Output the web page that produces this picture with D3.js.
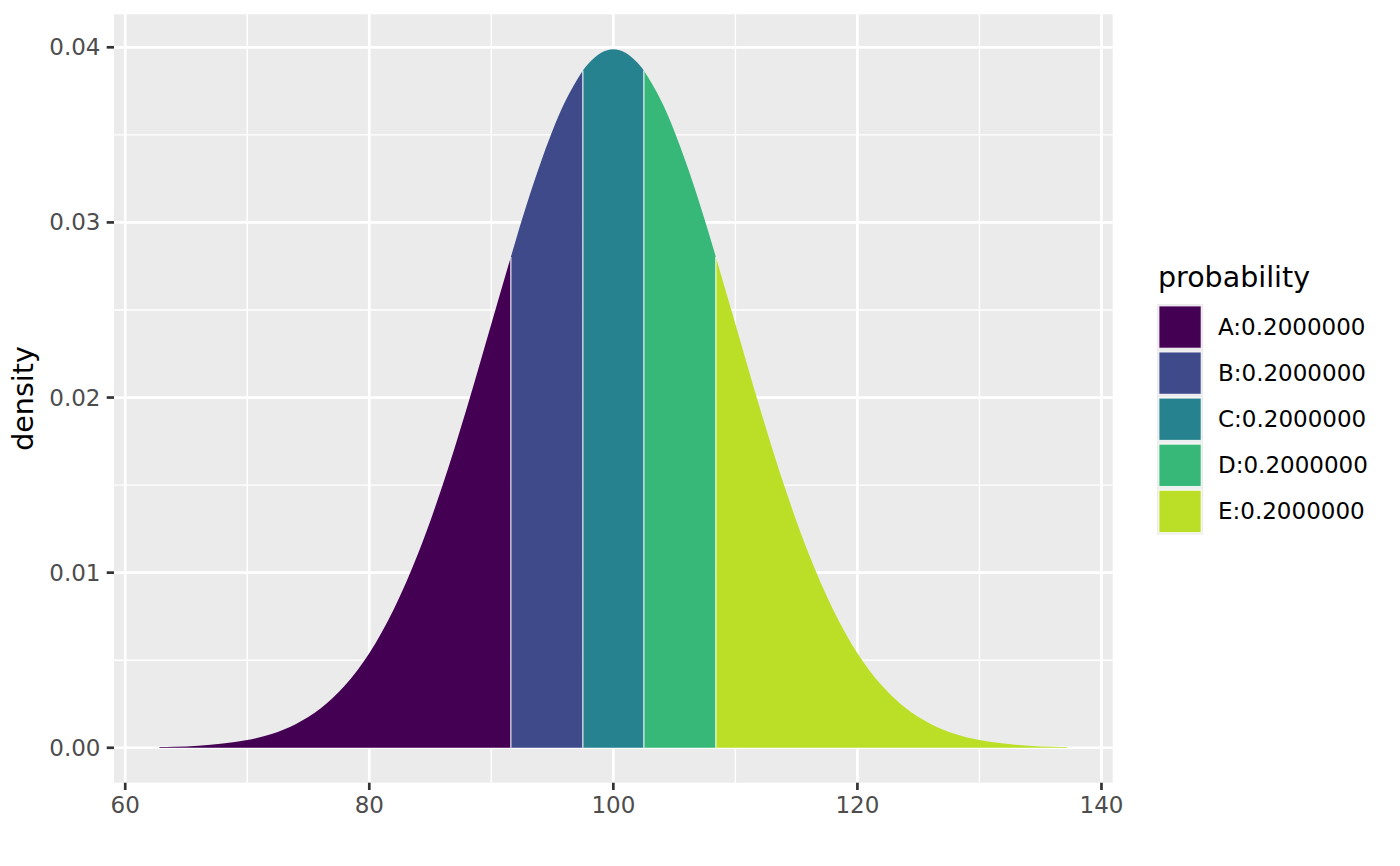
<!DOCTYPE html>
<html>
<head>
<meta charset="utf-8">
<script src="https://cdn.jsdelivr.net/npm/d3@7"></script>
<style>
    body { margin: 0; background: #ffffff; }
    svg { display: block; font-family: "DejaVu Sans", sans-serif; }
</style>
</head>
<body>
<svg id="chart" width="1400" height="866"></svg>
<script>
// density curve
var densityX = [62.8, 64, 66, 68, 70, 72, 74, 76, 78, 80, 82, 84, 86, 88, 90, 91.6, 92, 94, 96, 97.5, 98, 100,
    102, 102.5, 104, 106, 108, 108.4, 110, 112, 114, 116, 118, 120, 122, 124, 126, 128, 130, 132, 134, 136, 137.2];
var densityY = [0.00004, 0.00006, 0.00012, 0.00024, 0.00044, 0.00079, 0.00136, 0.00224, 0.00355, 0.00540, 0.00790,
    0.01109, 0.01497, 0.01942, 0.02420, 0.02803, 0.02897, 0.03332, 0.03683, 0.03867, 0.03910, 0.03989,
    0.03910, 0.03867, 0.03683, 0.03332, 0.02897, 0.02803, 0.02420, 0.01942, 0.01497, 0.01109, 0.00790,
    0.00540, 0.00355, 0.00224, 0.00136, 0.00079, 0.00044, 0.00024, 0.00012, 0.00006, 0.00004];

// the five shaded regions
var groups = ["A", "B", "C", "D", "E"];
var probability = [0.2, 0.2, 0.2, 0.2, 0.2];
var breaks = [62.8, 91.6, 97.5, 102.5, 108.4, 137.2];

var xTicks = [60, 80, 100, 120, 140];
var xMinor = [70, 90, 110, 130];
var yTicks = [0, 0.01, 0.02, 0.03, 0.04];
var yMinor = [0.005, 0.015, 0.025, 0.035];

var palette = ["#440154", "#3E4A89", "#26828E", "#38B878", "#BBDF27"];

var panel = {left: 114, right: 1112.7, top: 14.3, bottom: 782.7};

var svg = d3.select("#chart");

var points = densityX.map(function (x, i) {
    return {x: x, y: densityY[i]};
});

var xExt = d3.extent(densityX);
var xPad = (xExt[1] - xExt[0]) * 0.05;
var x = d3.scaleLinear()
    .domain([xExt[0] - xPad, xExt[1] + xPad])
    .range([panel.left, panel.right]);

var yMax = d3.max(densityY);
var y = d3.scaleLinear()
    .domain([-yMax * 0.05, yMax * 1.05])
    .range([panel.bottom, panel.top]);

// panel background and grid
svg.append("rect")
    .attr("x", panel.left).attr("y", panel.top)
    .attr("width", panel.right - panel.left)
    .attr("height", panel.bottom - panel.top)
    .attr("fill", "#EBEBEB");

var grid = svg.append("g").attr("stroke", "#ffffff");

grid.selectAll(".xminor").data(xMinor).enter().append("line")
    .attr("x1", function (d) { return x(d); }).attr("x2", function (d) { return x(d); })
    .attr("y1", panel.top).attr("y2", panel.bottom)
    .attr("stroke-width", 1.4);
grid.selectAll(".yminor").data(yMinor).enter().append("line")
    .attr("y1", function (d) { return y(d); }).attr("y2", function (d) { return y(d); })
    .attr("x1", panel.left).attr("x2", panel.right)
    .attr("stroke-width", 1.4);
grid.selectAll(".xmajor").data(xTicks).enter().append("line")
    .attr("x1", function (d) { return x(d); }).attr("x2", function (d) { return x(d); })
    .attr("y1", panel.top).attr("y2", panel.bottom)
    .attr("stroke-width", 2.7);
grid.selectAll(".ymajor").data(yTicks).enter().append("line")
    .attr("y1", function (d) { return y(d); }).attr("y2", function (d) { return y(d); })
    .attr("x1", panel.left).attr("x2", panel.right)
    .attr("stroke-width", 2.7);

// shaded regions under the curve
var area = d3.area()
    .x(function (d) { return x(d.x); })
    .y0(y(0))
    .y1(function (d) { return y(d.y); })
    .curve(d3.curveMonotoneX);

var regions = groups.map(function (g, i) {
    return points.filter(function (p) {
        return p.x >= breaks[i] && p.x <= breaks[i + 1];
    });
});

svg.append("g").selectAll("path").data(regions).enter().append("path")
    .attr("d", area)
    .attr("fill", function (d, i) { return palette[i]; });

// light separators between regions
var inner = regions.slice(1).map(function (r) { return r[0]; });
svg.append("g").selectAll("line").data(inner).enter().append("line")
    .attr("x1", function (d) { return x(d.x); }).attr("x2", function (d) { return x(d.x); })
    .attr("y1", y(0)).attr("y2", function (d) { return y(d.y); })
    .attr("stroke", "#ffffff")
    .attr("stroke-opacity", 0.75)
    .attr("stroke-width", 1.4);

// axes
var tickColor = "#333333", labelColor = "#4D4D4D";

var xAxis = svg.append("g");
xAxis.selectAll("line").data(xTicks).enter().append("line")
    .attr("x1", function (d) { return x(d); }).attr("x2", function (d) { return x(d); })
    .attr("y1", panel.bottom).attr("y2", panel.bottom + 7.3)
    .attr("stroke", tickColor).attr("stroke-width", 2.7);
xAxis.selectAll("text").data(xTicks).enter().append("text")
    .attr("x", function (d) { return x(d); })
    .attr("y", 813)
    .attr("text-anchor", "middle")
    .attr("font-size", 23)
    .attr("fill", labelColor)
    .text(function (d) { return d; });

var yAxis = svg.append("g");
yAxis.selectAll("line").data(yTicks).enter().append("line")
    .attr("y1", function (d) { return y(d); }).attr("y2", function (d) { return y(d); })
    .attr("x1", panel.left - 7.3).attr("x2", panel.left)
    .attr("stroke", tickColor).attr("stroke-width", 2.7);
yAxis.selectAll("text").data(yTicks).enter().append("text")
    .attr("x", 100.5)
    .attr("y", function (d) { return y(d); })
    .attr("dy", "0.35em")
    .attr("text-anchor", "end")
    .attr("font-size", 23)
    .attr("fill", labelColor)
    .text(function (d) { return d3.format(".2f")(d); });

svg.append("text")
    .attr("transform", "translate(33," + ((panel.top + panel.bottom) / 2) + ")rotate(-90)")
    .attr("text-anchor", "middle")
    .attr("font-size", 28.5)
    .attr("fill", "#000000")
    .text("density");

// legend
var legend = svg.append("g").attr("transform", "translate(1157,304)");
var keySize = 46.1;

legend.append("text")
    .attr("x", 1).attr("y", -17)
    .attr("font-size", 28.5)
    .attr("fill", "#000000")
    .text("probability");

var keys = legend.selectAll(".key").data(groups).enter().append("g")
    .attr("transform", function (d, i) { return "translate(0," + (i * keySize) + ")"; });

keys.append("rect")
    .attr("width", keySize).attr("height", keySize)
    .attr("fill", "#EBEBEB");
keys.append("rect")
    .attr("x", 1.8).attr("y", 1.8)
    .attr("width", keySize - 3.6).attr("height", keySize - 3.6)
    .attr("fill", function (d, i) { return palette[i]; })
    .attr("stroke", "#ffffff")
    .attr("stroke-opacity", 0.8)
    .attr("stroke-width", 1.3);
keys.append("text")
    .attr("x", 61)
    .attr("y", keySize / 2)
    .attr("dy", "0.35em")
    .attr("font-size", 23)
    .attr("fill", "#000000")
    .text(function (d, i) { return d + ":" + probability[i].toFixed(7); });
</script>
</body>
</html>
